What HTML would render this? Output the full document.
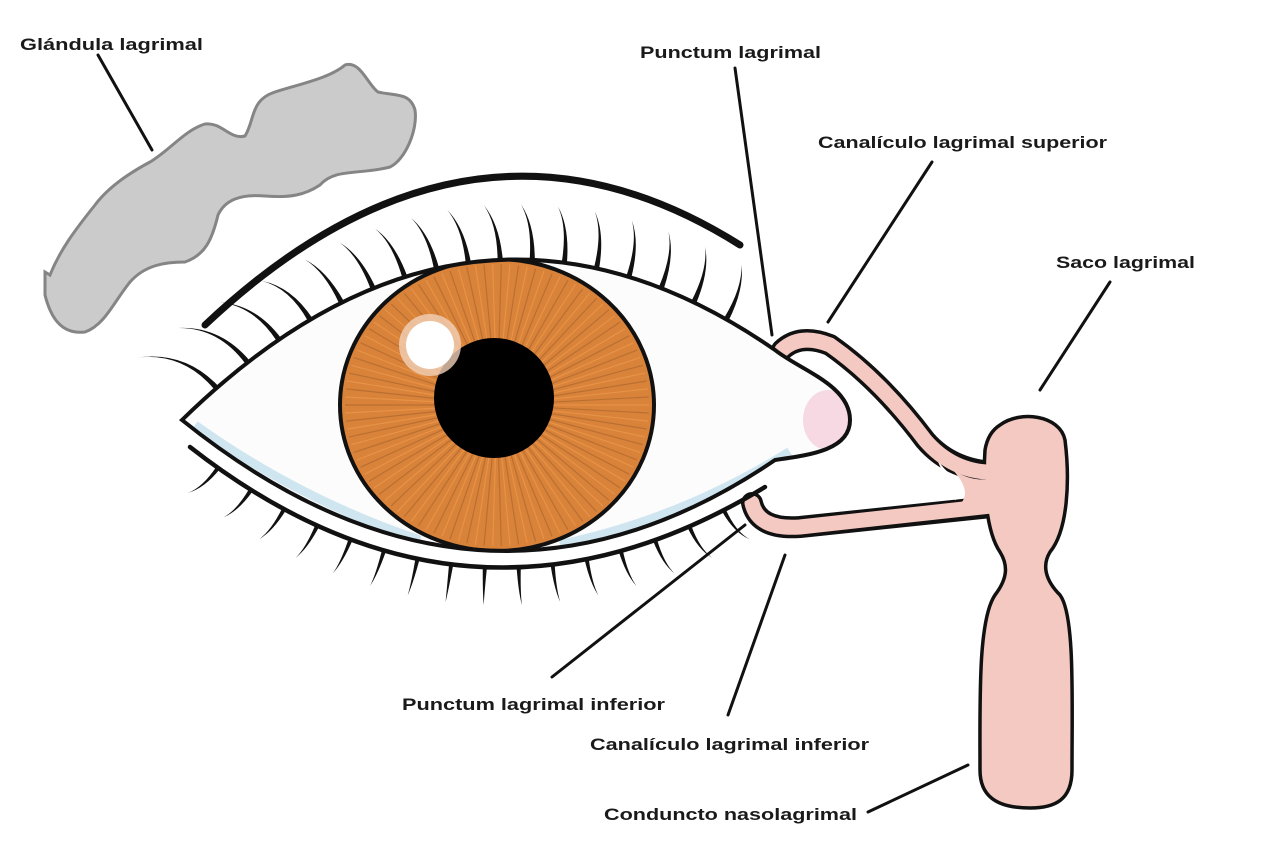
<!DOCTYPE html>
<html><head><meta charset="utf-8"><style>
html,body{margin:0;padding:0;background:#fff;width:1280px;height:861px;overflow:hidden}
svg text{font-family:"Liberation Sans",sans-serif;font-weight:bold;font-size:17px;fill:#1a1a1a}
</style></head><body>
<svg id="s" width="1280" height="861" viewBox="0 0 1280 861" xmlns="http://www.w3.org/2000/svg">
<defs>
<clipPath id="alm"><path d="M182,420 Q470,139 775,350 C800,370 850,385 850,420 C850,450 810,455 775,460 Q480,660 182,420Z"/></clipPath>
</defs>
<path d="M45,272 L50,275 C60,250 75,230 95,205 C110,185 135,170 150,162 C170,150 185,130 205,124 C222,122 230,140 245,136 C255,120 250,100 275,92 C300,84 330,78 345,65 C360,60 368,85 378,92 C395,96 410,92 415,110 C418,130 405,160 390,167 C360,175 335,168 320,185 C305,195 290,198 265,196 C240,194 225,200 218,215 C212,240 205,255 185,262 C165,262 145,265 130,282 C115,300 105,325 85,332 C60,335 50,315 45,295 Z" fill="#cbcbcb" stroke="#858585" stroke-width="3"/>
<g stroke="#111" stroke-width="3" fill="none" stroke-linecap="round">
<line x1="98" y1="55" x2="152" y2="150"/>
<line x1="735" y1="68" x2="772" y2="335"/>
<line x1="932" y1="162" x2="828" y2="322"/>
<line x1="1110" y1="282" x2="1040" y2="390"/>
<line x1="552" y1="677" x2="745" y2="525"/>
<line x1="728" y1="715" x2="785" y2="555"/>
<line x1="868" y1="812" x2="968" y2="765"/>
</g>
<g fill="none" stroke-linecap="round" stroke-linejoin="round">
<path d="M782,350 Q800,333 830,345 Q880,380 925,440 Q955,475 1010,472" stroke="#111" stroke-width="22"/>
<path d="M752,503 Q758,530 800,527 L1010,505" stroke="#111" stroke-width="22"/>
<path d="M935,455 Q950,485 990,488 L955,500 Z" fill="#fff" stroke="none"/>
</g>
<path d="M1000,425 C1020,410 1060,415 1065,440 C1070,480 1068,530 1050,552 C1042,565 1045,580 1060,595 C1075,615 1072,700 1072,770 C1072,800 1055,808 1030,808 C995,808 980,795 980,770 C980,700 978,620 995,595 C1008,578 1008,565 1000,552 C985,530 983,480 985,450 C987,438 992,430 1000,425Z" fill="#f4c9c2" stroke="#111" stroke-width="3.5"/>
<g fill="none" stroke-linecap="round" stroke-linejoin="round" stroke="#f4c9c2" stroke-width="15">
<path d="M782,350 Q800,333 830,345 Q880,380 925,440 Q955,475 1000,472"/>
<path d="M752,503 Q758,530 800,527 L1000,505"/>
</g>
<path d="M945,462 Q965,485 1000,478 L1000,500 L960,504 Q975,490 945,462Z" fill="#f4c9c2"/>
<path d="M182,420 Q470,139 775,350 C800,370 850,385 850,420 C850,450 810,455 775,460 Q480,660 182,420Z" fill="#fdfcfc"/>
<ellipse cx="828" cy="420" rx="25" ry="30" fill="#f6d9e3" clip-path="url(#alm)"/>
<path d="M195,425 Q300,500 420,540" fill="none" stroke="#cfe6f0" stroke-width="9" clip-path="url(#alm)"/>
<path d="M560,545 Q680,520 790,452" fill="none" stroke="#cfe6f0" stroke-width="10" clip-path="url(#alm)"/>
<g clip-path="url(#alm)">
<ellipse cx="497" cy="405" rx="157" ry="146" fill="#d9823a"/>
<g id="rays"></g>
<ellipse cx="497" cy="405" rx="157" ry="146" fill="none" stroke="#111" stroke-width="4"/>
<circle cx="494" cy="398" r="60" fill="#000"/>
<circle cx="430" cy="345" r="31" fill="#f1d1b8" opacity="0.8"/>
<circle cx="430" cy="345" r="24" fill="#fff"/>
</g>
<path d="M182,420 Q470,139 775,350 C800,370 850,385 850,420 C850,450 810,455 775,460 Q480,660 182,420Z" fill="none" stroke="#111" stroke-width="4"/>
<path d="M205,325 Q470,75 740,245" fill="none" stroke="#111" stroke-width="7" stroke-linecap="round"/>
<path d="M190,447 Q470,666 765,487" fill="none" stroke="#111" stroke-width="4.5" stroke-linecap="round"/>
<g id="lash" fill="#111"></g>
<text x="20" y="50" textLength="183" lengthAdjust="spacingAndGlyphs">Glándula lagrimal</text>
<text x="640" y="58" textLength="181" lengthAdjust="spacingAndGlyphs">Punctum lagrimal</text>
<text x="818" y="148" textLength="289" lengthAdjust="spacingAndGlyphs">Canalículo lagrimal superior</text>
<text x="1056" y="268" textLength="139" lengthAdjust="spacingAndGlyphs">Saco lagrimal</text>
<text x="402" y="710" textLength="263" lengthAdjust="spacingAndGlyphs">Punctum lagrimal inferior</text>
<text x="590" y="750" textLength="279" lengthAdjust="spacingAndGlyphs">Canalículo lagrimal inferior</text>
<text x="604" y="820" textLength="253" lengthAdjust="spacingAndGlyphs">Conduncto nasolagrimal</text>
</svg>
<script>
function q(p0,c,p2,t){var u=1-t;return [u*u*p0[0]+2*u*t*c[0]+t*t*p2[0],u*u*p0[1]+2*u*t*c[1]+t*t*p2[1]];}
function qd(p0,c,p2,t){var u=1-t;return [2*u*(c[0]-p0[0])+2*t*(p2[0]-c[0]),2*u*(c[1]-p0[1])+2*t*(p2[1]-c[1])];}
var rays=document.getElementById('rays'),h="";
for(var i=0;i<110;i++){var a=i*Math.PI*2/110;var x=497+152*Math.cos(a),y=405+141*Math.sin(a);
h+='<line x1="497" y1="405" x2="'+x.toFixed(1)+'" y2="'+y.toFixed(1)+'" stroke="'+(i%2?'#9a5e2a':'#f5a452')+'" stroke-width="1.2" opacity="0.5"/>';}
rays.innerHTML=h;
var L=document.getElementById('lash'),s="";
function lash(p0,c,p2,n,t0,t1,len,sign,lenF,w,sideF){
 for(var i=0;i<n;i++){var t=t0+(t1-t0)*i/(n-1);var b=q(p0,c,p2,t),d=qd(p0,c,p2,t);var m=Math.hypot(d[0],d[1]);
 var tx=d[0]/m,ty=d[1]/m;var nx=ty*sign,ny=-tx*sign;var l=len*lenF(t);
 var side=sideF(t);
 var tip=[b[0]+nx*l+tx*l*side,b[1]+ny*l+ty*l*side];var mid=[b[0]+nx*l*0.65,b[1]+ny*l*0.65];
 s+='<path d="M'+(b[0]-tx*w)+','+(b[1]-ty*w)+' Q'+(mid[0]-tx*w*0.6)+','+(mid[1]-ty*w*0.6)+' '+tip[0]+','+tip[1]+' Q'+(mid[0]+tx*w*0.3)+','+(mid[1]+ty*w*0.3)+' '+(b[0]+tx*w)+','+(b[1]+ty*w)+'Z"/>';}
}
lash([182,420],[470,139],[775,350],17,0.06,0.92,55,1,function(t){return t<0.25?1.5-t*2:1;},2.6,function(t){return t<0.25?-0.6+t:-0.25;});
lash([190,447],[470,666],[765,487],16,0.05,0.93,38,-1,function(t){return 1;},2.1,function(t){return (t-0.5)*0.6;});
L.innerHTML=s;
</script>
</body></html>
